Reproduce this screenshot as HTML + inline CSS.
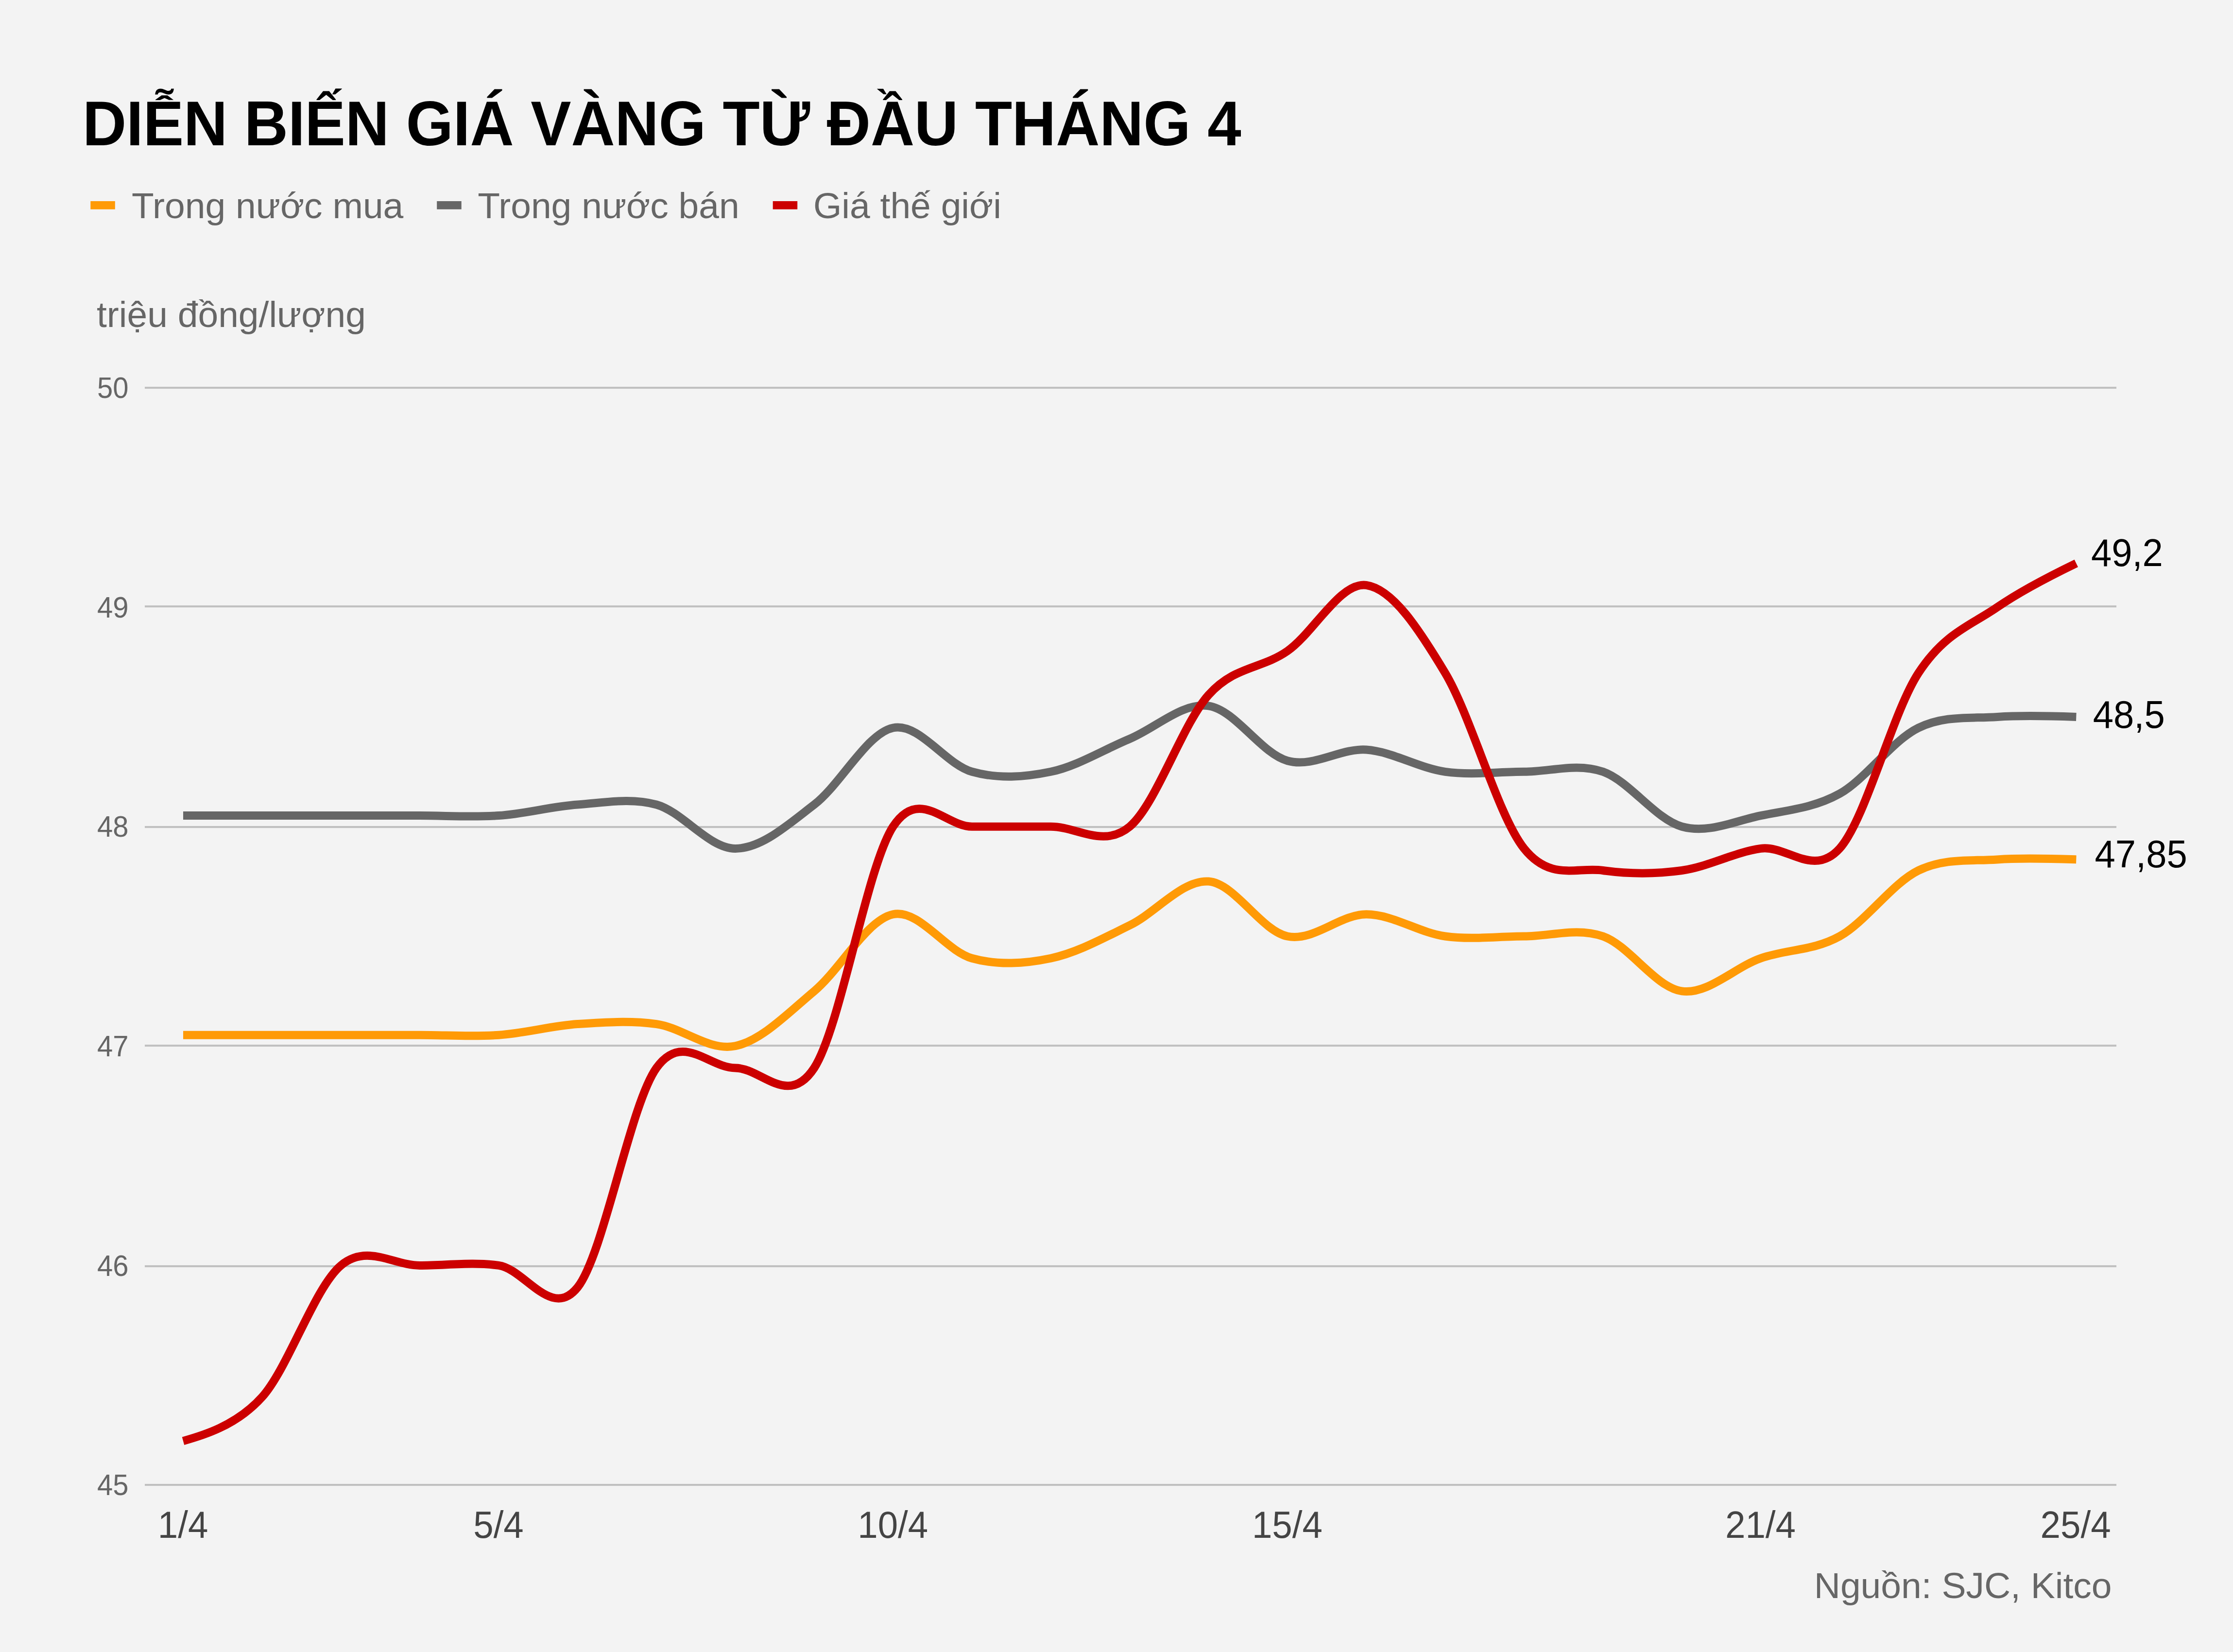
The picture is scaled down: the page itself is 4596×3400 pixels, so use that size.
<!DOCTYPE html>
<html lang="vi"><head><meta charset="utf-8">
<title>Diễn biến giá vàng từ đầu tháng 4</title>
<style>
html,body{margin:0;padding:0;background:#f3f3f3;}
body{width:4596px;height:3400px;overflow:hidden;}
svg{display:block;}
text{font-family:"Liberation Sans",sans-serif;}
.title{font-weight:700;font-size:124.8px;fill:#000;}
.leg{font-size:75px;fill:#666;}
.unit{font-size:75px;fill:#666;}
.ylab{font-size:58px;fill:#666;}
.xlab{font-size:74.5px;fill:#444;}
.src{font-size:75px;fill:#666;}
.end{font-size:76px;fill:#000;}
</style></head><body>
<svg width="4596" height="3400" viewBox="0 0 4596 3400">
<rect x="0" y="0" width="4596" height="3400" fill="#f3f3f3"/>
<text class="title" transform="translate(170.0 299.0) scale(1 1.0380)">DIỄN BIẾN GIÁ VÀNG TỪ ĐẦU THÁNG 4</text>
<rect x="186.3" y="414" width="50.5" height="16.8" fill="#ff9a06"/>
<text class="leg" x="271.0" y="448.6">Trong nước mua</text>
<rect x="899.2" y="414" width="50.5" height="16.8" fill="#666666"/>
<text class="leg" x="983.2" y="448.6">Trong nước bán</text>
<rect x="1590.7" y="414" width="50.5" height="16.8" fill="#cc0000"/>
<text class="leg" x="1674.0" y="448.6">Giá thế giới</text>
<text class="unit" x="199.0" y="673.0">triệu đồng/lượng</text>
<rect x="298.0" y="796.0" width="4058.0" height="4.1" fill="#c0c0c0"/>
<text class="ylab" transform="translate(200.0 819.2) scale(1 1.0380)">50</text>
<rect x="298.0" y="1246.0" width="4058.0" height="4.1" fill="#c0c0c0"/>
<text class="ylab" transform="translate(200.0 1270.8) scale(1 1.0380)">49</text>
<rect x="298.0" y="1700.0" width="4058.0" height="4.1" fill="#c0c0c0"/>
<text class="ylab" transform="translate(200.0 1722.4) scale(1 1.0380)">48</text>
<rect x="298.0" y="2150.0" width="4058.0" height="4.1" fill="#c0c0c0"/>
<text class="ylab" transform="translate(200.0 2174.0) scale(1 1.0380)">47</text>
<rect x="298.0" y="2604.0" width="4058.0" height="4.1" fill="#c0c0c0"/>
<text class="ylab" transform="translate(200.0 2625.6) scale(1 1.0380)">46</text>
<rect x="298.0" y="3054.0" width="4058.0" height="4.1" fill="#c0c0c0"/>
<text class="ylab" transform="translate(200.0 3077.2) scale(1 1.0380)">45</text>
<path d="M377.0 2130.2 C413.1 2130.2 485.2 2130.2 539.3 2130.2 C593.5 2130.2 647.6 2130.2 701.7 2130.2 C755.8 2130.2 809.9 2130.2 864.0 2130.2 C918.2 2130.2 972.3 2134.0 1026.4 2130.2 C1080.5 2126.5 1134.6 2111.4 1188.7 2107.6 C1242.8 2103.9 1297.0 2100.1 1351.1 2107.6 C1405.2 2115.2 1459.3 2164.1 1513.4 2152.8 C1567.5 2141.5 1621.7 2085.1 1675.8 2039.9 C1729.9 1994.7 1784.0 1893.1 1838.1 1881.8 C1892.2 1870.5 1946.3 1957.1 2000.5 1972.2 C2054.6 1987.2 2108.7 1983.5 2162.8 1972.2 C2216.9 1960.9 2271.0 1930.8 2325.2 1904.4 C2379.3 1878.1 2433.4 1810.3 2487.5 1814.1 C2541.6 1817.9 2595.7 1915.7 2649.8 1927.0 C2704.0 1938.3 2758.1 1881.8 2812.2 1881.8 C2866.3 1881.8 2920.4 1919.5 2974.5 1927.0 C3028.6 1934.5 3082.8 1927.0 3136.9 1927.0 C3191.0 1927.0 3245.1 1908.2 3299.2 1927.0 C3353.3 1945.8 3407.5 2032.4 3461.6 2039.9 C3515.7 2047.4 3569.8 1991.0 3623.9 1972.2 C3678.0 1953.3 3732.1 1957.1 3786.3 1927.0 C3840.4 1896.9 3894.5 1817.9 3948.6 1791.5 C4002.7 1765.2 4056.8 1772.7 4111.0 1768.9 C4165.1 1765.2 4237.2 1767.7 4273.3 1768.9" fill="none" stroke="#ff9a06" stroke-width="17" stroke-linejoin="round"/>
<path d="M377.0 1678.6 C413.1 1678.6 485.2 1678.6 539.3 1678.6 C593.5 1678.6 647.6 1678.6 701.7 1678.6 C755.8 1678.6 809.9 1678.6 864.0 1678.6 C918.2 1678.6 972.3 1682.4 1026.4 1678.6 C1080.5 1674.9 1134.6 1659.8 1188.7 1656.0 C1242.8 1652.3 1297.0 1641.0 1351.1 1656.0 C1405.2 1671.1 1459.3 1746.4 1513.4 1746.4 C1567.5 1746.4 1621.7 1697.4 1675.8 1656.0 C1729.9 1614.6 1784.0 1509.3 1838.1 1498.0 C1892.2 1486.7 1946.3 1573.2 2000.5 1588.3 C2054.6 1603.4 2108.7 1599.6 2162.8 1588.3 C2216.9 1577.0 2271.0 1543.1 2325.2 1520.6 C2379.3 1498.0 2433.4 1445.3 2487.5 1452.8 C2541.6 1460.3 2595.7 1550.7 2649.8 1565.7 C2704.0 1580.8 2758.1 1539.4 2812.2 1543.1 C2866.3 1546.9 2920.4 1580.8 2974.5 1588.3 C3028.6 1595.8 3082.8 1588.3 3136.9 1588.3 C3191.0 1588.3 3245.1 1569.5 3299.2 1588.3 C3353.3 1607.1 3407.5 1686.1 3461.6 1701.2 C3515.7 1716.3 3569.8 1689.9 3623.9 1678.6 C3678.0 1667.3 3732.1 1663.6 3786.3 1633.5 C3840.4 1603.4 3894.5 1524.3 3948.6 1498.0 C4002.7 1471.6 4056.8 1479.2 4111.0 1475.4 C4165.1 1471.6 4237.2 1474.1 4273.3 1475.4" fill="none" stroke="#666666" stroke-width="17" stroke-linejoin="round"/>
<path d="M377.0 2965.7 C413.1 2955.6 485.2 2935.6 539.3 2875.4 C593.5 2815.1 647.6 2649.6 701.7 2604.4 C755.8 2559.2 809.9 2604.4 864.0 2604.4 C918.2 2604.4 972.3 2596.9 1026.4 2604.4 C1080.5 2611.9 1134.6 2717.3 1188.7 2649.6 C1242.8 2581.8 1297.0 2273.2 1351.1 2198.0 C1405.2 2122.7 1459.3 2198.0 1513.4 2198.0 C1567.5 2198.0 1621.7 2280.8 1675.8 2198.0 C1729.9 2115.2 1784.0 1784.0 1838.1 1701.2 C1892.2 1618.4 1946.3 1701.2 2000.5 1701.2 C2054.6 1701.2 2108.7 1701.2 2162.8 1701.2 C2216.9 1701.2 2271.0 1746.4 2325.2 1701.2 C2379.3 1656.0 2433.4 1490.5 2487.5 1430.2 C2541.6 1370.0 2595.7 1377.6 2649.8 1339.9 C2704.0 1302.3 2758.1 1196.9 2812.2 1204.4 C2866.3 1212.0 2920.4 1294.8 2974.5 1385.1 C3028.6 1475.4 3082.8 1678.6 3136.9 1746.4 C3191.0 1814.1 3245.1 1784.0 3299.2 1791.5 C3353.3 1799.0 3407.5 1799.0 3461.6 1791.5 C3515.7 1784.0 3569.8 1753.9 3623.9 1746.4 C3678.0 1738.8 3732.1 1806.6 3786.3 1746.4 C3840.4 1686.1 3894.5 1467.9 3948.6 1385.1 C4002.7 1302.3 4056.8 1287.2 4111.0 1249.6 C4165.1 1212.0 4237.2 1176.8 4273.3 1159.3" fill="none" stroke="#cc0000" stroke-width="17" stroke-linejoin="round"/>
<text class="end" transform="translate(4304.0 1165.2) scale(1 1.0380)">49,2</text>
<text class="end" transform="translate(4307.8 1497.6) scale(1 1.0380)">48,5</text>
<text class="end" transform="translate(4311.6 1785.4) scale(1 1.0380)">47,85</text>
<text class="xlab" transform="translate(376.6 3165.2) scale(1 1.0520)" text-anchor="middle">1/4</text>
<text class="xlab" transform="translate(1026.0 3165.2) scale(1 1.0520)" text-anchor="middle">5/4</text>
<text class="xlab" transform="translate(1837.7 3165.2) scale(1 1.0520)" text-anchor="middle">10/4</text>
<text class="xlab" transform="translate(2649.4 3165.2) scale(1 1.0520)" text-anchor="middle">15/4</text>
<text class="xlab" transform="translate(3623.5 3165.2) scale(1 1.0520)" text-anchor="middle">21/4</text>
<text class="xlab" transform="translate(4344.6 3165.2) scale(1 1.0520)" text-anchor="end">25/4</text>
<text class="src" x="4346.5" y="3288.6" text-anchor="end">Nguồn: SJC, Kitco</text>
</svg></body></html>
